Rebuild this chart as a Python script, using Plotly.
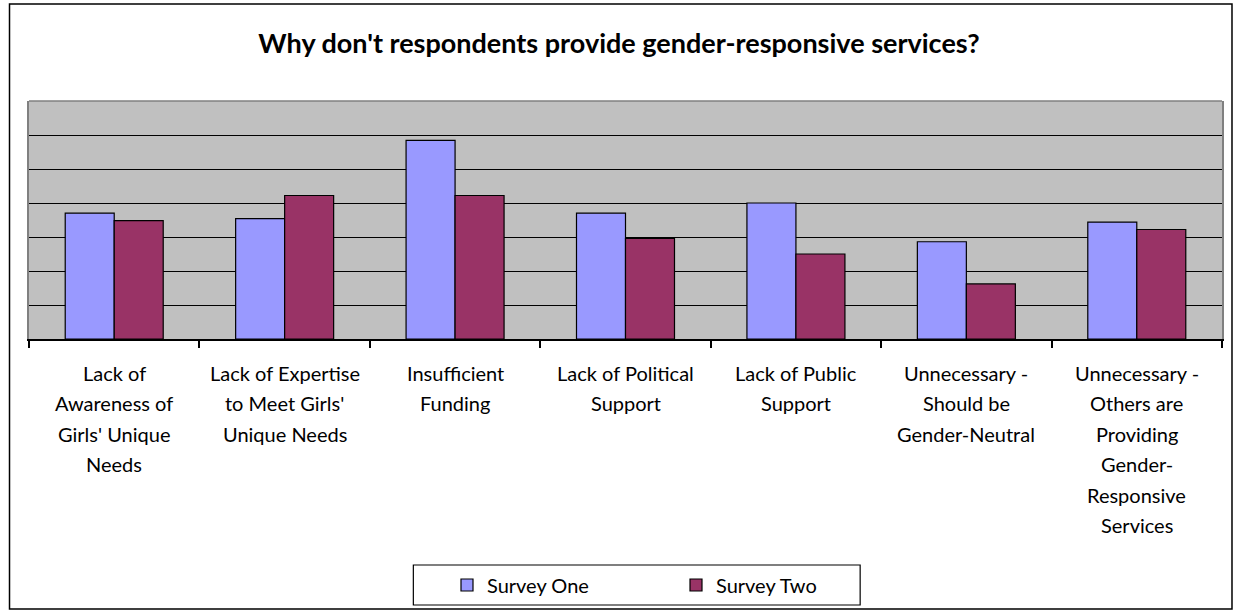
import plotly.graph_objects as go

# Survey results (percent of respondents)
categories = [
    ["Lack of", "Awareness of", "Girls' Unique", "Needs"],
    ["Lack of Expertise", "to Meet Girls'", "Unique Needs"],
    ["Insufficient", "Funding"],
    ["Lack of Political", "Support"],
    ["Lack of Public", "Support"],
    ["Unnecessary -", "Should be", "Gender-Neutral"],
    ["Unnecessary -", "Others are", "Providing", "Gender-", "Responsive", "Services"],
]
survey_one = [18.5, 17.7, 29.2, 18.5, 20.0, 14.3, 17.2]
survey_two = [17.4, 21.1, 21.1, 14.8, 12.5, 8.1, 16.1]
series_names = ["Survey One", "Survey Two"]
series_colors = ["#9999FF", "#993366"]
gridlines = [0, 5, 10, 15, 20, 25, 30]

W, H = 1238, 610
ML, MR, MT, MB = 28.5, 16, 101, 271
FONT = "Lato, Carlito, Calibri, sans-serif"

keys = [" ".join(c) for c in categories]

fig = go.Figure()
for name, vals, color in zip(series_names, [survey_one, survey_two], series_colors):
    fig.add_trace(go.Bar(x=keys, y=vals, name=name, showlegend=False,
                         marker=dict(color=color, line=dict(color="#000000", width=1.2))))
# Small square legend keys
for name, color in zip(series_names, series_colors):
    fig.add_trace(go.Scatter(x=[None], y=[None], mode="markers", name=name,
                             marker=dict(symbol="square", size=12, color=color,
                                         line=dict(color="#000000", width=1.2))))

# Wrapped category labels under the axis, one text line each
annotations = []
for key, lines in zip(keys, categories):
    for i, line in enumerate(lines):
        annotations.append(dict(
            x=key, xref="x", y=0, yref="paper", yanchor="middle", xanchor="center",
            yshift=-34 - i * 30.4, text=line, showarrow=False,
            font=dict(family=FONT, size=20, color="#000000"),
        ))

pw = W - ML - MR
ph = H - MT - MB
def px_x(p):
    return (p - ML) / pw
def px_y(p):
    return 1 - (p - MT) / ph

shapes = [
    # top edge of the plot area
    dict(type="line", xref="paper", yref="paper", x0=0, x1=1, y0=1, y1=1,
         line=dict(color="#808080", width=1.5), layer="above"),
    # outer chart border
    dict(type="rect", xref="paper", yref="paper",
         x0=px_x(9), x1=px_x(1232), y0=px_y(4), y1=px_y(609),
         line=dict(color="#000000", width=1.5), layer="below"),
    # legend frame
    dict(type="rect", xref="paper", yref="paper",
         x0=px_x(413), x1=px_x(860), y0=px_y(565), y1=px_y(605),
         line=dict(color="#000000", width=1.2), fillcolor="#FFFFFF", layer="below"),
]

fig.update_layout(
    width=W, height=H,
    margin=dict(l=ML, r=MR, t=MT, b=MB, pad=0),
    paper_bgcolor="#FFFFFF",
    plot_bgcolor="#C0C0C0",
    barmode="group", bargap=0.425, bargroupgap=0,
    title=dict(text="<b>Why don't respondents provide gender-responsive services?</b>",
               x=0.5, xref="container", xanchor="center",
               y=1 - 44 / H, yref="container", yanchor="middle",
               font=dict(family=FONT, size=27, color="#000000")),
    xaxis=dict(showline=True, linecolor="#000000", linewidth=1.5,
               ticks="outside", tickson="boundaries", ticklen=7, tickcolor="#000000",
               tickwidth=1.5, showticklabels=False, showgrid=False),
    yaxis=dict(range=[0, 35], tickvals=gridlines, showticklabels=False,
               showgrid=True, gridcolor="#000000", gridwidth=1.3, zeroline=False,
               showline=True, linecolor="#808080", linewidth=1.5, mirror=True, ticks=""),
    showlegend=True,
    legend=dict(orientation="h", x=447 / W, xanchor="left", xref="container",
                y=1 - 585 / H, yref="container", yanchor="middle",
                borderwidth=0, bgcolor="rgba(0,0,0,0)",
                entrywidth=184, entrywidthmode="pixels", itemwidth=30,
                font=dict(family=FONT, size=20, color="#000000")),
    annotations=annotations,
    shapes=shapes,
)

fig.write_html("out.html")
